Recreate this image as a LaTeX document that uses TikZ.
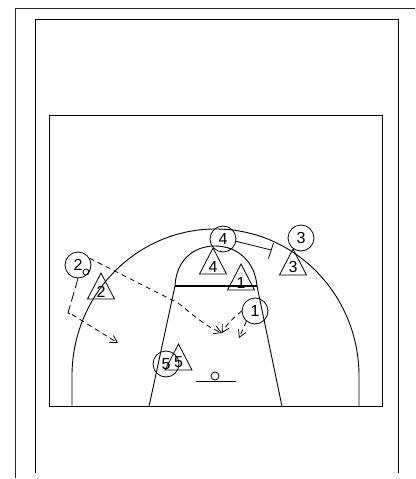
\documentclass[tikz,border=0pt]{standalone}
\usepackage{fontspec}
\setmainfont{Liberation Sans}
\usetikzlibrary{arrows.meta,shapes.geometric}
\tikzset{
	court/.style={line width=0.9pt},
	player/.style={draw, circle, line width=0.8pt, minimum size=26pt, inner sep=0pt, font=\fontsize{16}{16}\selectfont},
	defender/.style={draw, isosceles triangle, isosceles triangle stretches, shape border rotate=90, minimum width=27pt, minimum height=26pt, inner sep=0pt, line width=0.8pt, font=\fontsize{16}{16}\selectfont},
	cut/.style={line width=0.8pt, dash pattern=on 5pt off 4pt, -{Straight Barb[length=7pt,width=8pt]}},
}
\begin{document}
\begin{tikzpicture}[x=1pt, y=-1pt]
	\useasboundingbox (0,0) rectangle (415,479);
	\fill[white] (0,0) rectangle (415,479);
	% frames
	\draw[line width=1.5pt, black!85] (15.5,478) -- (15.5,8.5) -- (415,8.5);
	\draw[court] (35.5,472.5) -- (35.5,19.5) -- (398.5,19.5) -- (398.5,472.5);
	\draw[court] (49.5,115.5) rectangle (382,406.5);
	% court lines
	\draw[court] (72,406.5) -- (72,376) arc[start angle=180, end angle=360, x radius=143.5, y radius=147] -- (359,406.5);
	\draw[court] (149,406.5) -- (175,286);
	\draw[court] (257,286) -- (282,406.5);
	\draw[line width=1.4pt] (175,286) -- (257,286);
	\draw[court] (175,286) .. controls (176,262) and (192,246) .. (215,246) .. controls (238,246) and (255,262) .. (257,286);
	\node[draw, circle, line width=0.8pt, minimum size=8pt, inner sep=0pt] (basket) at (215,376) {};
	\draw[court] (196,381.5) -- (236,381.5);
	% defenders
	\node[defender, anchor=apex] (d2) at (101,272) {2};
	\node[defender, anchor=apex] (d5) at (178.5,343) {5};
	\node[defender, anchor=apex] (d4) at (213,247) {4};
	\node[defender, anchor=apex] (d1) at (241,263) {1};
	\node[defender, anchor=apex] (d3) at (293,248) {3};
	% attackers
	\node[player] (p2) at (78,265) {2};
	\node[player] (p5) at (166,364) {5};
	\node[player] (p4) at (223,239) {4};
	\node[player] (p3) at (301,238) {3};
	\node[player] (p1) at (255,311) {1};
	\node[draw, circle, line width=0.8pt, minimum size=6pt, inner sep=0pt] (ball) at (86,272) {};
	% movements
	\coordinate (turn) at (68,313);
	\coordinate (cutend) at (118,343);
	\coordinate (passend) at (222,333);
	\coordinate (shortend) at (239,338);
	\coordinate (screen) at (271,250);
	\coordinate (screena) at (273.5,243);
	\coordinate (screenb) at (268.5,258.5);
	\draw[line width=0.8pt, dash pattern=on 10pt off 4pt] (p2.south) -- (turn) -- (72,314.5);
	\draw[cut] (72,314.5) -- (cutend);
	\draw[cut] (p2.30) -- (178,303) .. controls (190,312) and (203,325) .. (passend);
	\draw[cut] (p1.west) .. controls (235,317) and (228,322) .. (passend);
	\draw[cut] (p1.-130) -- (shortend);
	\draw[line width=0.8pt] (p4.-10) -- (screen);
	\draw[line width=0.8pt] (screena) -- (screenb);
\end{tikzpicture}
\end{document}
